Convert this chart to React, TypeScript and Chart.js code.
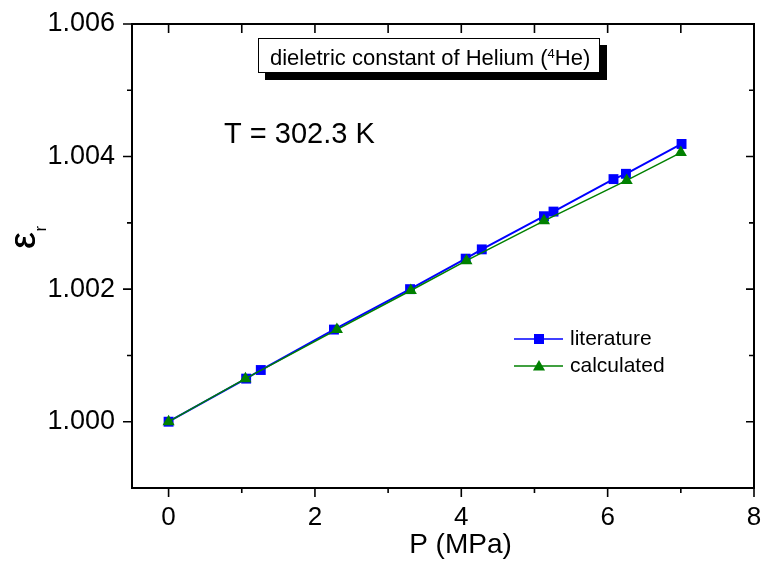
import React, { useEffect, useRef } from "react";
import { Chart, registerables } from "chart.js";

Chart.register(...registerables);

// ---- data ----
const litP = [0, 1.06, 1.26, 2.26, 3.3, 4.06, 4.28, 5.13, 5.26, 6.08, 6.25, 7.01];
const litEps = [1.0, 1.00065, 1.00078, 1.00139, 1.002, 1.00246, 1.0026, 1.0031, 1.00317, 1.00366, 1.00374, 1.00419];
const calcP = [0, 1.05, 2.3, 3.31, 4.07, 5.13, 6.26, 7.0];
const calcEps = [1.0, 1.00065, 1.00139, 1.00198, 1.00243, 1.00303, 1.00364, 1.00406];

const xTicks = [0, 2, 4, 6, 8];
const xMinorTicks = [1, 3, 5, 7];
const yTicks = [1.0, 1.002, 1.004, 1.006];
const yMinorTicks = [1.001, 1.003, 1.005];

const seriesNames = ["literature", "calculated"];
const chartTitle = ["dieletric constant of Helium (", "4", "He)"];
const tempLabel = "T = 302.3 K";
const xTitle = "P (MPa)";

const FONT = "'Liberation Sans', Arial, Helvetica, sans-serif";
const BLUE = "#0000ff";
const GREEN = "#008000";

function drawSquare(ctx: CanvasRenderingContext2D, x: number, y: number, s: number, c: string) {
  ctx.fillStyle = c;
  ctx.fillRect(x - s / 2, y - s / 2, s, s);
}
function drawTri(ctx: CanvasRenderingContext2D, x: number, y: number, r: number, c: string) {
  ctx.fillStyle = c;
  ctx.beginPath();
  ctx.moveTo(x, y - r);
  ctx.lineTo(x + r * 0.866, y + r / 2);
  ctx.lineTo(x - r * 0.866, y + r / 2);
  ctx.closePath();
  ctx.fill();
}

const framePlugin = {
  id: "frameAndDecor",
  afterDraw(chart: any) {
    const ctx: CanvasRenderingContext2D = chart.ctx;
    const { left, right, top, bottom } = chart.chartArea;
    const xs = chart.scales.x;
    const ys = chart.scales.y;
    ctx.save();
    ctx.strokeStyle = "#000";
    ctx.lineWidth = 2;
    ctx.strokeRect(left, top, right - left, bottom - top);

    ctx.lineWidth = 1.6;
    ctx.beginPath();
    xTicks.forEach((v) => {
      const p = xs.getPixelForValue(v);
      ctx.moveTo(p, bottom);
      ctx.lineTo(p, bottom + 9);
      ctx.moveTo(p, top);
      ctx.lineTo(p, top + 9);
    });
    xMinorTicks.forEach((v) => {
      const p = xs.getPixelForValue(v);
      ctx.moveTo(p, bottom);
      ctx.lineTo(p, bottom + 5);
      ctx.moveTo(p, top);
      ctx.lineTo(p, top + 9);
    });
    yTicks.forEach((v) => {
      const p = ys.getPixelForValue(v);
      ctx.moveTo(left - 9, p);
      ctx.lineTo(left, p);
      ctx.moveTo(right, p);
      ctx.lineTo(right - 8, p);
    });
    yMinorTicks.forEach((v) => {
      const p = ys.getPixelForValue(v);
      ctx.moveTo(left - 5, p);
      ctx.lineTo(left, p);
      ctx.moveTo(right, p);
      ctx.lineTo(right - 5, p);
    });
    ctx.stroke();

    // x title
    ctx.fillStyle = "#000";
    ctx.font = `28px ${FONT}`;
    ctx.textAlign = "center";
    ctx.textBaseline = "middle";
    ctx.fillText(xTitle, 460.5, 545);

    // y title: epsilon with subscript r, rotated
    ctx.save();
    ctx.translate(35, 249);
    ctx.rotate(-Math.PI / 2);
    ctx.textAlign = "left";
    ctx.textBaseline = "alphabetic";
    ctx.font = `37px ${FONT}`;
    ctx.fillText("\u03b5", 0, 0);
    ctx.fillText("\u03b5", 0.4, 0.4);
    const ew = ctx.measureText("\u03b5").width;
    ctx.font = `17px ${FONT}`;
    ctx.fillText("r", ew + 1, 11);
    ctx.restore();

    // temperature label
    ctx.font = `29px ${FONT}`;
    ctx.textAlign = "left";
    ctx.textBaseline = "alphabetic";
    ctx.fillText(tempLabel, 224, 143);

    // title box with shadow
    ctx.fillStyle = "#000";
    ctx.fillRect(265, 45, 342, 35);
    ctx.fillStyle = "#fff";
    ctx.fillRect(258, 38, 342, 35);
    ctx.lineWidth = 1;
    ctx.strokeStyle = "#000";
    ctx.strokeRect(258.5, 38.5, 341, 34);
    ctx.fillStyle = "#000";
    ctx.font = `22px ${FONT}`;
    let tx = 270;
    ctx.fillText(chartTitle[0], tx, 65);
    tx += ctx.measureText(chartTitle[0]).width;
    ctx.font = `13px ${FONT}`;
    ctx.fillText(chartTitle[1], tx, 58);
    tx += ctx.measureText(chartTitle[1]).width;
    ctx.font = `22px ${FONT}`;
    ctx.fillText(chartTitle[2], tx, 65);

    // legend
    const legY = [339, 366];
    const cols = [BLUE, GREEN];
    ctx.font = `21px ${FONT}`;
    ctx.textBaseline = "middle";
    legY.forEach((y, i) => {
      ctx.strokeStyle = cols[i];
      ctx.lineWidth = 1.5;
      ctx.beginPath();
      ctx.moveTo(514, y);
      ctx.lineTo(563, y);
      ctx.stroke();
      if (i === 0) drawSquare(ctx, 539, y, 10, cols[i]);
      else drawTri(ctx, 539, y + 1, 7, cols[i]);
      ctx.fillStyle = "#000";
      ctx.fillText(seriesNames[i], 570, y);
    });
    ctx.restore();
  },
};

export default function App() {
  const ref = useRef<HTMLCanvasElement | null>(null);
  useEffect(() => {
    if (!ref.current) return;
    Chart.defaults.font.family = FONT;
    const chart = new Chart(ref.current, {
      type: "scatter",
      data: {
        datasets: [
          {
            label: seriesNames[0],
            data: litP.map((x, i) => ({ x, y: litEps[i] })),
            showLine: true,
            borderColor: BLUE,
            backgroundColor: BLUE,
            borderWidth: 2,
            pointStyle: "rect",
            pointRadius: 7,
            pointBorderWidth: 0,
            order: 2,
          },
          {
            label: seriesNames[1],
            data: calcP.map((x, i) => ({ x, y: calcEps[i] })),
            showLine: true,
            borderColor: GREEN,
            backgroundColor: GREEN,
            borderWidth: 1.5,
            pointStyle: "triangle",
            pointRadius: 7,
            pointBorderWidth: 0,
            order: 1,
          },
        ],
      },
      options: {
        responsive: false,
        maintainAspectRatio: false,
        animation: false,
        layout: { padding: { top: 24, right: 10, left: 0, bottom: 0 } },
        plugins: { legend: { display: false }, tooltip: { enabled: false }, title: { display: false } },
        scales: {
          x: {
            type: "linear",
            min: -0.5,
            max: 8,
            grid: { display: false, drawTicks: false },
            border: { display: false },
            ticks: {
              padding: 14,
              color: "#000",
              font: { size: 26, family: FONT },
              callback: (v: any) => String(v),
            },
            afterBuildTicks: (s: any) => {
              s.ticks = xTicks.map((v) => ({ value: v }));
            },
            afterFit: (s: any) => {
              s.height = 75;
              s.paddingLeft = 0;
              s.paddingRight = 0;
              s.paddingTop = 0;
              s.paddingBottom = 0;
            },
          },
          y: {
            type: "linear",
            min: 0.999,
            max: 1.006,
            grid: { display: false, drawTicks: false },
            border: { display: false },
            ticks: {
              padding: 17,
              color: "#000",
              font: { size: 27, family: FONT },
              callback: (v: any) => Number(v).toFixed(3),
            },
            afterBuildTicks: (s: any) => {
              s.ticks = yTicks.map((v) => ({ value: v }));
            },
            afterFit: (s: any) => {
              s.width = 132;
              s.paddingLeft = 0;
              s.paddingRight = 0;
              s.paddingTop = 0;
              s.paddingBottom = 0;
            },
          },
        },
      },
      plugins: [framePlugin],
    });
    return () => chart.destroy();
  }, []);
  return (
    <div style={{ position: "fixed", left: 0, top: 0, width: 764, height: 563, background: "#fff" }}>
      <canvas ref={ref} width={764} height={563} style={{ width: 764, height: 563 }} />
    </div>
  );
}
